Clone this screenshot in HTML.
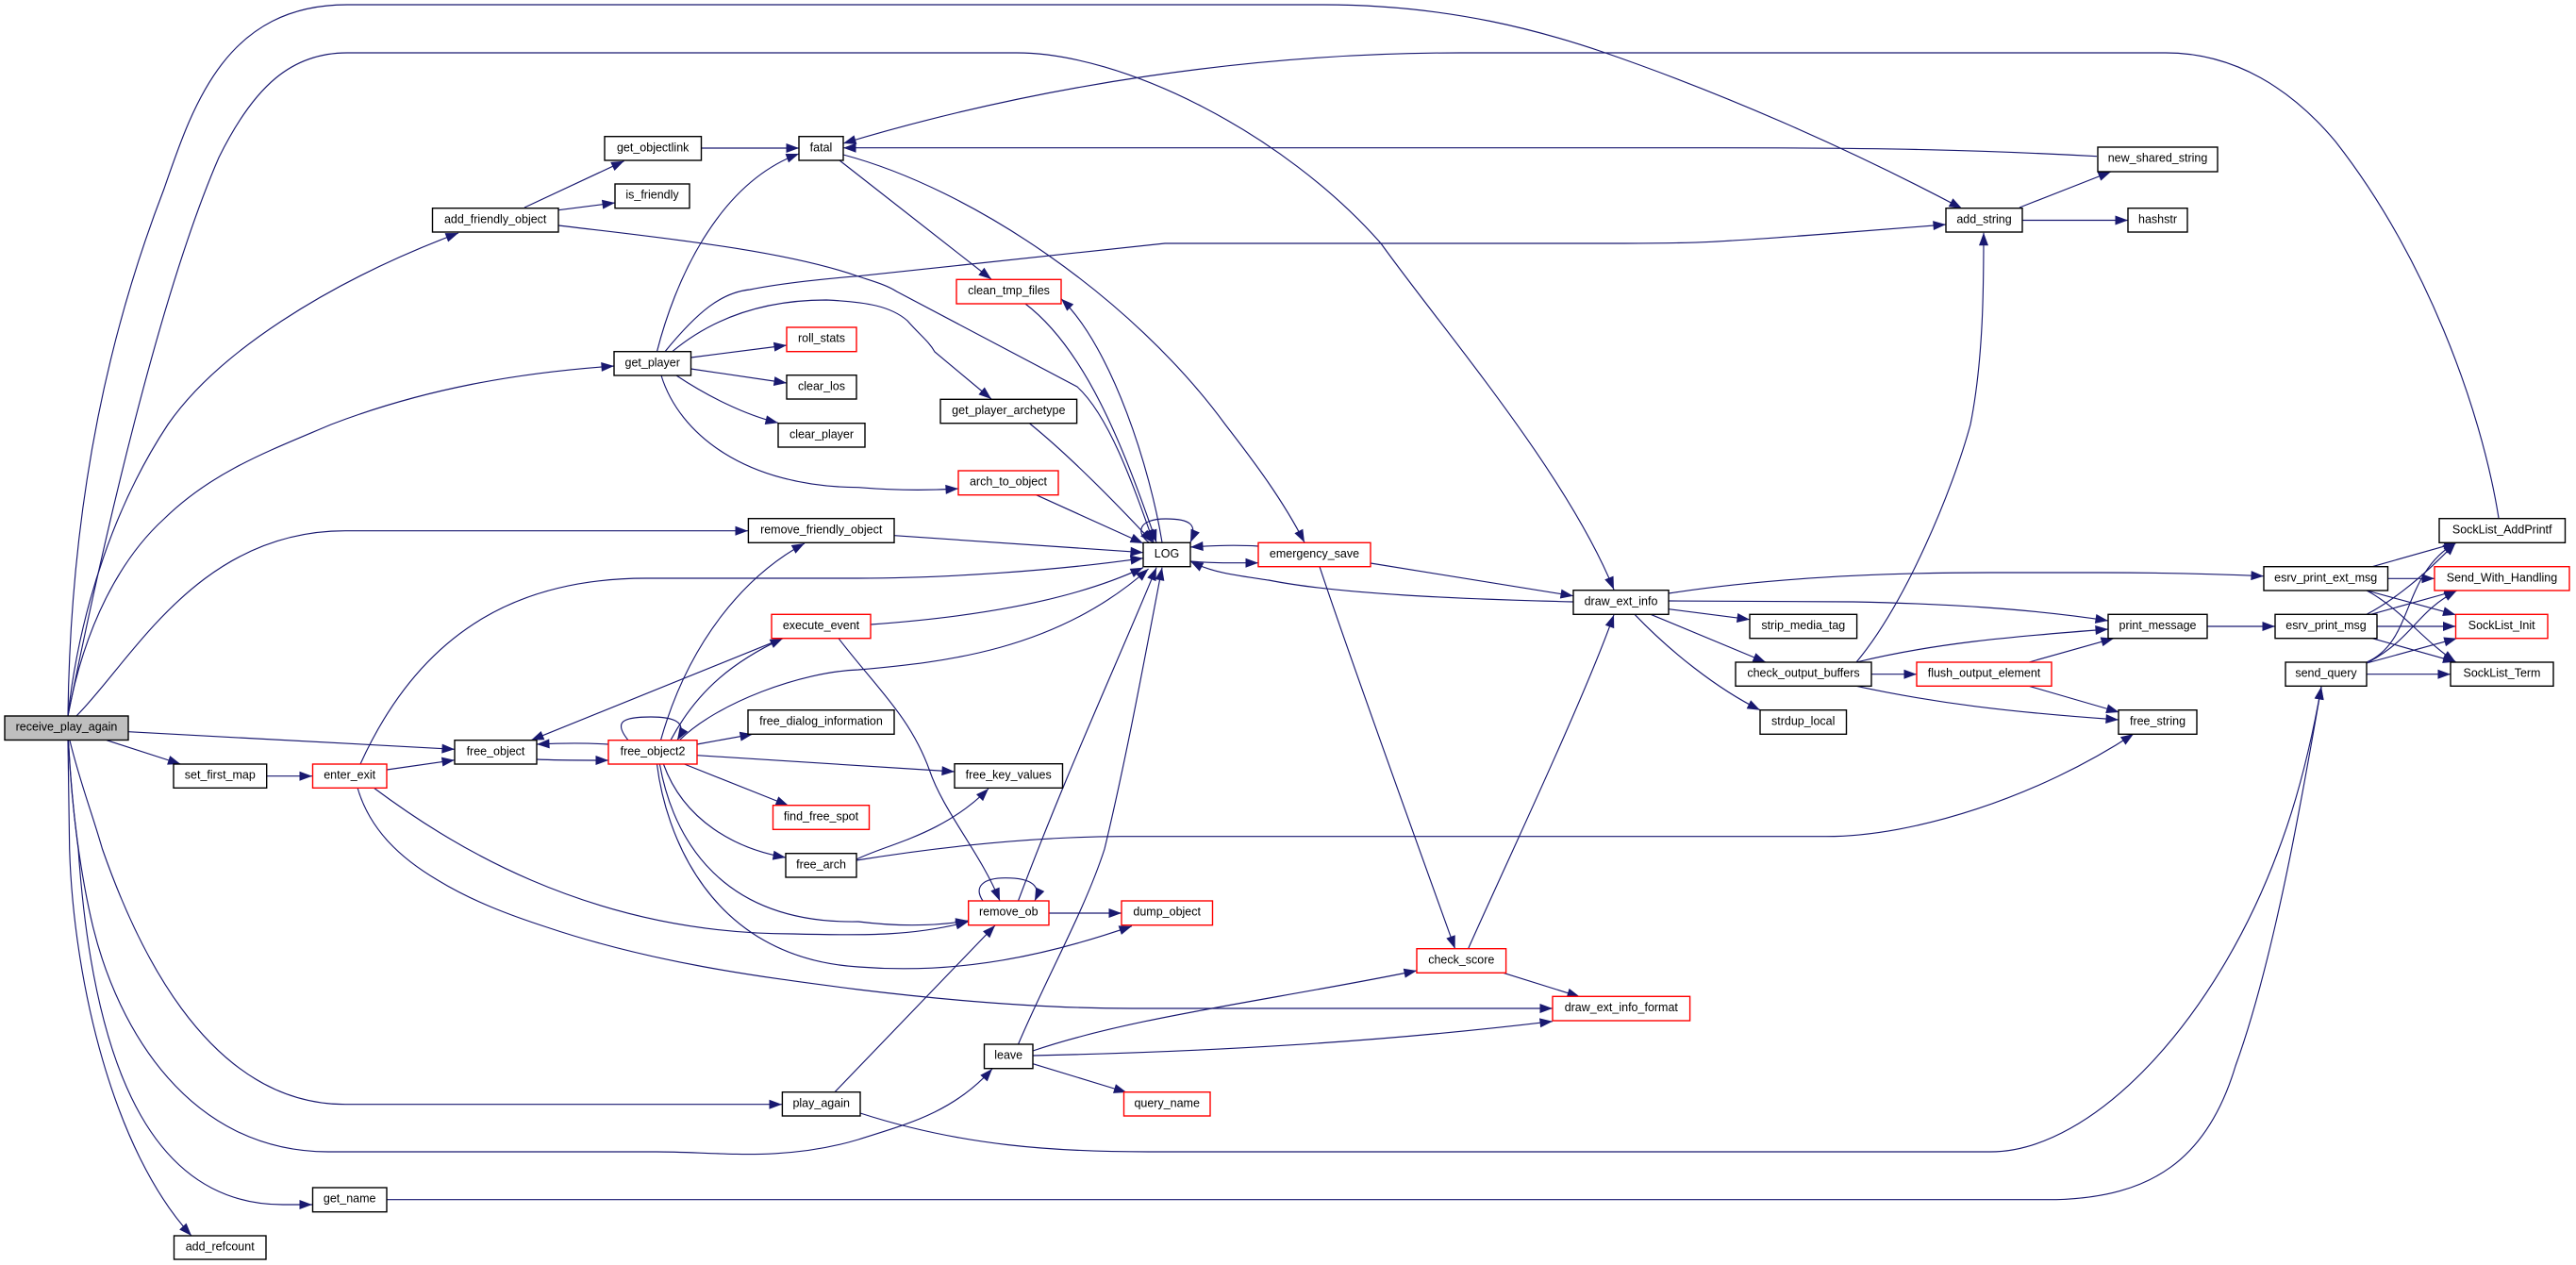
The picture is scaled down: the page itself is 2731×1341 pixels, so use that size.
<!DOCTYPE html>
<html><head><meta charset="utf-8"><title>receive_play_again call graph</title>
<style>
html,body{margin:0;padding:0;background:#fff}
svg{display:block;filter:blur(.3px)}
.e path{fill:none;stroke:#191970;stroke-width:1.15;marker-end:url(#a)}
.n rect{fill:#fff;stroke:#000;stroke-width:1.4}
.n rect.r{stroke:#f00}
.n rect.g{fill:#bfbfbf}
.n text{font-family:"Liberation Sans",sans-serif;font-size:12.5px;text-anchor:middle;fill:#000}
</style></head><body>
<svg xmlns="http://www.w3.org/2000/svg" width="2731" height="1341" viewBox="0 0 2731 1341">
<defs><marker id="a" markerUnits="userSpaceOnUse" markerWidth="15" markerHeight="12" refX="14" refY="5.5" orient="auto"><path d="M0.5,0.5L14,5.5L0.5,10.5Z" fill="#191970"/></marker></defs>
<g class="e">
<path d="M72,759C75,520 120,340 174,200C205,110 240,5 368,5L1403,5C1540,5 1640,35 1699,55C1830,100 1965,160 2080,221"/>
<path d="M72,759C110,570 170,310 232,167C270,90 310,56 368,56L1078,56C1190,56 1360,140 1464,258C1530,350 1660,500 1711,625"/>
<path d="M72,759C85,640 125,530 178,450C230,375 345,300 486,247"/>
<path d="M72,759C90,660 130,590 174,550C225,500 285,478 351,450C450,412 550,395 651,388"/>
<path d="M81,759C140,700 210,562.7 366,562.7L793,562.7"/>
<path d="M136,775.7L482,794.3"/>
<path d="M113,784.7L191.5,810"/>
<path d="M74,785C85,830 97,860 108.5,900C140,990 215,1170.7 366,1170.7L829,1170.7"/>
<path d="M72.5,785C76,860 86,930 98.7,983C125,1090 200,1221 348,1221L696,1221C760,1221 830,1232 910,1208C960,1192 1010,1180 1052,1133"/>
<path d="M72.5,785C75,830 79,870 83,900C100,1150 170,1277 300,1277L331,1277"/>
<path d="M72,785L73.7,900C78,1040 120,1220 203,1310"/>
<path d="M283,822.7L331,822.7"/>
<path d="M410,816L482,805.7"/>
<path d="M382,810C450,660 560,613 685,613L910,613C1000,613 1120,605 1212,591.7"/>
<path d="M396,835C470,890 620,990 841,990C920,992 970,992 1026.7,977"/>
<path d="M379,835C392,880 425,910 464,933C500,955 540,970 580,983C690,1020 800,1035 910,1049C1000,1060 1100,1069 1200,1069L1646,1069"/>
<path d="M569,805C590,806 610,806 645,806"/>
<path d="M645,789C620,787.5 600,787.5 569,789"/>
<path d="M830,676.7L563,784.7"/>
<path d="M711,784.7C740,730 780,700 830,676.7"/>
<path d="M700.5,784.7C730,680 790,610 853,576"/>
<path d="M739,789L798,778.3"/>
<path d="M739,800.7L1012,818"/>
<path d="M725.5,810L836,854"/>
<path d="M666,784.7C650,765 660,760 690,760C720,760 728,768 718,784.7"/>
<path d="M703.4,810C725,870 780,900 833,909"/>
<path d="M699.4,810C710,870 750,980 910,977C950,982 990,982 1026.7,976"/>
<path d="M696.5,810C705,880 750,1015 910,1025C1000,1032 1090,1020 1200,981.7"/>
<path d="M720,785C760,745 850,712 910,710C1000,702 1120,690 1217.6,603"/>
<path d="M889,676.7C930,730 965,760 985.5,816.7C1000,860 1040,905 1060,955"/>
<path d="M908,911C940,895 1000,885 1048,836"/>
<path d="M908,912C1000,897 1100,887 1188,886.7L1936,886.7C2030,886.7 2160,845 2262,778"/>
<path d="M1042,955C1032,940 1042,930.7 1066,930.7C1095,930.7 1104,940 1097,955"/>
<path d="M1112,968L1189,968"/>
<path d="M885,1157.7L1055,981"/>
<path d="M912,1180C1020,1215 1120,1221 1217.6,1221L2110,1221C2220,1221 2350,1080 2416,900C2435,850 2450,790 2461,728"/>
<path d="M410,1271.7L2180,1271.7C2280,1269 2340,1230 2370,1130C2410,1020 2440,850 2461,728"/>
<path d="M1079.5,955C1130,820 1190,690 1226,601.7"/>
<path d="M1079.5,1107C1110,1035 1150,965 1171,900C1195,800 1215,690 1232,601.7"/>
<path d="M1218,575C1205,566 1205,550 1236,550C1262,550 1270,556 1262,575"/>
<path d="M948,567.7L1212,585.7"/>
<path d="M923,662C1020,655 1130,640 1212,601.7"/>
<path d="M1098.6,524.7L1212,576"/>
<path d="M1091.7,449C1130,480 1180,530 1222,575"/>
<path d="M1087,322C1150,370 1190,470 1226,575"/>
<path d="M1232,575C1220,500 1180,370 1125,316.7"/>
<path d="M592,239C700,252 830,265 910,293C925,298 940,302 950.6,309L1142,410C1175,440 1200,510 1223,575"/>
<path d="M1334,579C1310,577.5 1290,578 1262,580"/>
<path d="M1262,595C1285,597 1305,596.7 1334,596.7"/>
<path d="M1453,597L1668,631.7"/>
<path d="M1668,638C1550,635 1420,630 1345,615C1310,610 1285,607 1262,595"/>
<path d="M1399,600.7C1432,700 1510,915 1542.6,1005.7"/>
<path d="M1556.6,1005.7C1590,930 1680,740 1711,651.7"/>
<path d="M1593.7,1031.3L1675,1056.7"/>
<path d="M1095,1114C1200,1078 1350,1060 1502,1029"/>
<path d="M1095,1119C1280,1115 1460,1105 1646,1082.7"/>
<path d="M1095,1127.7L1194.4,1158"/>
<path d="M556,220L661.6,170.7"/>
<path d="M592,222.7L652,215"/>
<path d="M743.5,157L847,157"/>
<path d="M696.5,372.7C715,300 760,195 847,163"/>
<path d="M2223,165.7C2100,159 2000,156.7 1820,156.7L894,156.7"/>
<path d="M2649,549C2630,430 2570,270 2476,150C2430,95 2370,56 2296,56L1548,56C1330,56 1100,90 894,152"/>
<path d="M890,170L1051,296"/>
<path d="M894,164C1030,200 1200,315 1299,450C1330,490 1360,530 1383,575"/>
<path d="M705,372.7C740,330 765,310 795,307C830,300 880,295 910,292.7L1235,258L1722.6,258C1800,258 1820,256.7 1936,248L2063,238"/>
<path d="M712.7,372.7C740,350 790,318 876,318C920,320 945,325 962,340C975,355 985,362 991,373L1051,423"/>
<path d="M732.5,379L834,366"/>
<path d="M732.5,391L834,406"/>
<path d="M717,398C750,420 790,440 825,448.3"/>
<path d="M701,398C720,460 790,516 910,516.7C950,520 985,520 1016,518"/>
<path d="M1769,629C1880,612 2000,607 2110,607L2226,607C2280,607 2340,608 2400,610.7"/>
<path d="M1769,637L1965,638C2060,640 2150,645 2235,658"/>
<path d="M1769,645.7L1855,656.7"/>
<path d="M1750,651.3L1872,702"/>
<path d="M1733,651.3C1770,690 1820,730 1866,752.7"/>
<path d="M1968,702C2020,640 2070,520 2089,450C2103,380 2103,300 2103,246.7"/>
<path d="M1968,702C2050,682 2130,675 2235,667"/>
<path d="M1984,714.7L2032,714.7"/>
<path d="M1968,727.3C2050,745 2130,755 2246,763"/>
<path d="M2151,702L2241,676.7"/>
<path d="M2151,727.3L2246.6,755"/>
<path d="M2340,664L2412,664"/>
<path d="M2520,664L2603.5,664"/>
<path d="M2515,676.7L2603.5,701.7"/>
<path d="M2509,651.3C2540,635 2570,610 2603.5,575.3"/>
<path d="M2513.6,651.3L2604.7,626"/>
<path d="M2515,600.7L2604.7,575.3"/>
<path d="M2531.6,613.3L2581,613.3"/>
<path d="M2509,626L2603.5,651.7"/>
<path d="M2509,626C2545,645 2570,680 2603.5,701.7"/>
<path d="M2509,702C2560,680 2545,610 2603.5,575.3"/>
<path d="M2511,702C2560,675 2560,650 2604.7,626"/>
<path d="M2509,703L2604.7,676.7"/>
<path d="M2509,714.7L2598,714.7"/>
<path d="M2144,233.5L2256,233.5"/>
<path d="M2141,220L2238,182"/>
</g>
<g class="n">
<rect class="g" x="5" y="759" width="131" height="25.5"/><text x="70.5" y="774.7">receive_play_again</text>
<rect x="184" y="810" width="98.7" height="25.3"/><text x="233.3" y="825.7">set_first_map</text>
<rect class="r" x="331.5" y="810" width="78.5" height="25.3"/><text x="370.7" y="825.7">enter_exit</text>
<rect x="482" y="784.7" width="87" height="25.3"/><text x="525.5" y="800.4">free_object</text>
<rect class="r" x="645" y="784.7" width="94" height="25.3"/><text x="692" y="800.4">free_object2</text>
<rect x="458.5" y="220.7" width="133.5" height="25.3"/><text x="525.2" y="236.4">add_friendly_object</text>
<rect x="641" y="144.7" width="102.5" height="25.3"/><text x="692.2" y="160.4">get_objectlink</text>
<rect x="652" y="195" width="79" height="25.7"/><text x="691.5" y="210.7">is_friendly</text>
<rect x="651" y="372.7" width="81.5" height="25.3"/><text x="691.7" y="388.4">get_player</text>
<rect x="847" y="144.7" width="47" height="25.3"/><text x="870.5" y="160.4">fatal</text>
<rect class="r" x="834" y="347" width="74" height="25.7"/><text x="871" y="362.7">roll_stats</text>
<rect x="834" y="397.7" width="74" height="25.3"/><text x="871" y="413.4">clear_los</text>
<rect x="825" y="448.7" width="92" height="25.3"/><text x="871" y="464.4">clear_player</text>
<rect x="793.4" y="549.7" width="154.6" height="25.6"/><text x="870.7" y="565.4">remove_friendly_object</text>
<rect class="r" x="818" y="651.3" width="105" height="25.4"/><text x="870.5" y="667">execute_event</text>
<rect x="793" y="752.7" width="155" height="25.6"/><text x="870.5" y="768.4">free_dialog_information</text>
<rect class="r" x="819.5" y="853.7" width="102" height="25.6"/><text x="870.5" y="869.4">find_free_spot</text>
<rect x="833" y="904.7" width="75" height="25.3"/><text x="870.5" y="920.4">free_arch</text>
<rect x="829.4" y="1157.7" width="82.6" height="25.3"/><text x="870.7" y="1173.4">play_again</text>
<rect x="331.5" y="1259" width="78.5" height="25.7"/><text x="370.7" y="1274.7">get_name</text>
<rect x="184.5" y="1310" width="97.5" height="25"/><text x="233.2" y="1325.7">add_refcount</text>
<rect class="r" x="1014" y="296.3" width="111" height="25.7"/><text x="1069.5" y="312">clean_tmp_files</text>
<rect x="997" y="423.3" width="144.6" height="25.4"/><text x="1069.3" y="439">get_player_archetype</text>
<rect class="r" x="1016" y="499" width="106" height="25.7"/><text x="1069" y="514.7">arch_to_object</text>
<rect x="1012" y="809.7" width="114.5" height="25.6"/><text x="1069.2" y="825.4">free_key_values</text>
<rect class="r" x="1026.7" y="955" width="85.3" height="25.7"/><text x="1069.3" y="970.7">remove_ob</text>
<rect x="1043.5" y="1107" width="51.5" height="25.7"/><text x="1069.2" y="1122.7">leave</text>
<rect x="1212" y="575.3" width="50" height="25.4"/><text x="1237" y="591">LOG</text>
<rect class="r" x="1189" y="955" width="96.5" height="25.7"/><text x="1237.2" y="970.7">dump_object</text>
<rect class="r" x="1191.5" y="1157.7" width="91.5" height="25.3"/><text x="1237.2" y="1173.4">query_name</text>
<rect class="r" x="1334" y="575.3" width="119" height="25.4"/><text x="1393.5" y="591">emergency_save</text>
<rect class="r" x="1502" y="1005.7" width="94.6" height="25.6"/><text x="1549.3" y="1021.4">check_score</text>
<rect x="1668" y="625.7" width="101" height="25.6"/><text x="1718.5" y="641.4">draw_ext_info</text>
<rect class="r" x="1646" y="1056.3" width="145.6" height="25.7"/><text x="1718.8" y="1072">draw_ext_info_format</text>
<rect x="1855" y="651.3" width="113.6" height="25.4"/><text x="1911.8" y="667">strip_media_tag</text>
<rect x="1840" y="702" width="144" height="25.3"/><text x="1912" y="717.7">check_output_buffers</text>
<rect x="1866" y="752.7" width="91.5" height="25.6"/><text x="1911.7" y="768.4">strdup_local</text>
<rect x="2063" y="220.7" width="81" height="25.3"/><text x="2103.5" y="236.4">add_string</text>
<rect class="r" x="2032" y="702" width="143" height="25.3"/><text x="2103.5" y="717.7">flush_output_element</text>
<rect x="2224" y="156" width="127" height="26"/><text x="2287.5" y="171.7">new_shared_string</text>
<rect x="2256" y="220.7" width="63" height="25.3"/><text x="2287.5" y="236.4">hashstr</text>
<rect x="2235" y="651.3" width="105" height="25.4"/><text x="2287.5" y="667">print_message</text>
<rect x="2246" y="752.7" width="83" height="25.6"/><text x="2287.5" y="768.4">free_string</text>
<rect x="2400" y="600.7" width="131.5" height="25.3"/><text x="2465.7" y="616.4">esrv_print_ext_msg</text>
<rect x="2412" y="651.3" width="108" height="25.4"/><text x="2466" y="667">esrv_print_msg</text>
<rect x="2423" y="702" width="86" height="25.3"/><text x="2466" y="717.7">send_query</text>
<rect x="2586" y="549.7" width="133.5" height="25.6"/><text x="2652.7" y="565.4">SockList_AddPrintf</text>
<rect class="r" x="2581" y="600.7" width="143" height="25.3"/><text x="2652.5" y="616.4">Send_With_Handling</text>
<rect class="r" x="2603.5" y="651.3" width="97.5" height="25.4"/><text x="2652.2" y="667">SockList_Init</text>
<rect x="2598" y="702" width="109" height="25.3"/><text x="2652.5" y="717.7">SockList_Term</text>
</g>
</svg>
</body></html>
